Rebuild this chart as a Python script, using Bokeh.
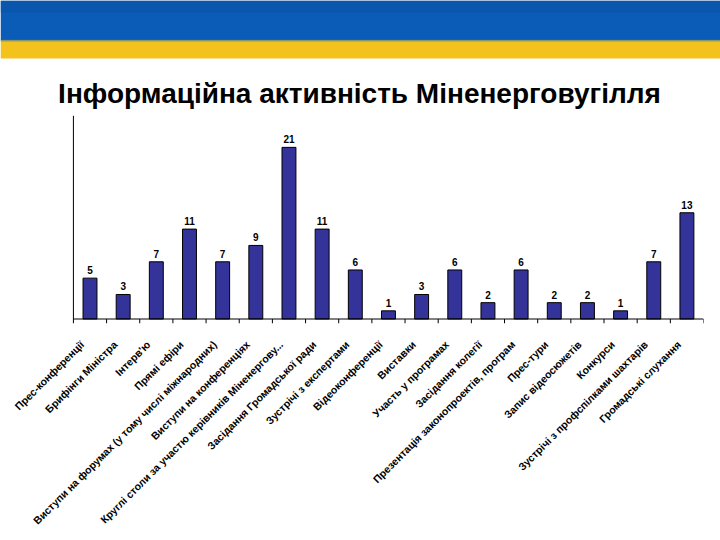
import math
from bokeh.plotting import figure
from bokeh.models import Range1d, FactorRange, ColumnDataSource
from bokeh.transform import dodge
from bokeh.layouts import column
from bokeh.core.properties import value
from bokeh.embed import file_html
from bokeh.resources import INLINE

title_text = "Інформаційна активність Міненерговугілля"

categories = [
    "Прес-конференції",
    "Брифінги Міністра",
    "Інтерв'ю",
    "Прямі ефіри",
    "Виступи на форумах (у тому числі міжнародних)",
    "Виступи на конференціях",
    "Круглі столи за участю керівників Міненергову...",
    "Засідання Громадської ради",
    "Зустрічі з експертами",
    "Відеоконференції",
    "Виставки",
    "Участь у програмах",
    "Засідання колегії",
    "Презентація законопроектів, програм",
    "Прес-тури",
    "Запис відеосюжетів",
    "Конкурси",
    "Зустрічі з профспілками шахтарів",
    "Громадські слухання",
]
values = [5, 3, 7, 11, 7, 9, 21, 11, 6, 1, 3, 6, 2, 6, 2, 2, 1, 7, 13]

FONT = "Liberation Sans"
SHIFT = 0.24  # label anchors sit a little left of the bar centres

# ---- banner with flag stripes and title ----
banner = figure(width=720, height=115, x_range=Range1d(0, 720), y_range=Range1d(115, 0),
                output_backend="svg", toolbar_location=None,
                min_border_left=0, min_border_right=0,
                min_border_top=0, min_border_bottom=0)
banner.frame_align = False
banner.axis.visible = False
banner.grid.visible = False
banner.outline_line_color = None
banner.background_fill_color = "white"
banner.border_fill_color = "white"

banner.quad(left=[0], right=[720], top=[0], bottom=[40], fill_color="#0b5cb6", line_color=None)
banner.quad(left=[0], right=[720], top=[0], bottom=[12], fill_color="#0a52a6", line_color=None, fill_alpha=0.6)
banner.quad(left=[0], right=[720], top=[40], bottom=[58], fill_color="#f3c21c", line_color=None)
banner.quad(left=[0], right=[720], top=[39], bottom=[41], fill_color="#4f7a5a", line_color=None, fill_alpha=0.5)

banner.text(x=[359], y=[92.5], text=[title_text], text_align="center",
            text_baseline="middle", text_font=value(FONT),
            text_font_size="28px", text_font_style="bold", text_color="black")

# ---- main bar chart ----
src = ColumnDataSource(dict(cat=categories, val=values, lbl=[str(v) for v in values]))

xr = FactorRange(*categories, range_padding=SHIFT, range_padding_units="absolute")
p = figure(x_range=xr, y_range=Range1d(-0.55, 24.9),
           frame_width=646, frame_height=208,
           min_border_left=57, min_border_right=17, min_border_top=0, min_border_bottom=217,
           output_backend="svg", toolbar_location=None)
p.frame_align = False
p.grid.visible = False
p.outline_line_color = None

xcat = dodge("cat", SHIFT, range=xr)
p.vbar(x=xcat, top="val", bottom=0, width=0.42, source=src,
       fill_color="#333399", line_color="black", line_width=1)

p.text(x=xcat, y="val", text="lbl", source=src, y_offset=-4,
       text_align="center", text_baseline="bottom",
       text_font=value(FONT), text_font_size="10px", text_font_style="bold",
       text_color="black")

# axis lines and tick marks between categories
n = len(categories)
p.segment(x0=[SHIFT], x1=[n + SHIFT], y0=[0], y1=[0], line_color="black", line_width=1)
p.segment(x0=[SHIFT], x1=[SHIFT], y0=[0], y1=[24.9], line_color="black", line_width=1)
bounds = [k + SHIFT for k in range(n + 1)]
p.segment(x0=bounds, x1=bounds, y0=[0] * len(bounds), y1=[-0.55] * len(bounds),
          line_color="black", line_width=1)

xa = p.xaxis[0]
xa.axis_line_color = None
xa.major_tick_line_color = None
xa.minor_tick_line_color = None
xa.major_label_orientation = math.pi / 4
xa.major_label_text_font = FONT
xa.major_label_text_font_size = "10.5px"
xa.major_label_text_font_style = "bold"
xa.major_label_text_color = "black"
xa.major_label_standoff = 13

ya = p.yaxis[0]
ya.axis_line_color = None
ya.major_tick_line_color = None
ya.minor_tick_line_color = None
ya.major_label_text_font_size = "0px"
ya.major_label_text_color = None

layout = column(banner, p, spacing=0)

html = file_html(layout, INLINE)
html = html.replace("<head>", "<head><style>html,body{margin:0;padding:0;overflow:hidden;background:white}</style>", 1)
open("out.html", "w").write(html)
